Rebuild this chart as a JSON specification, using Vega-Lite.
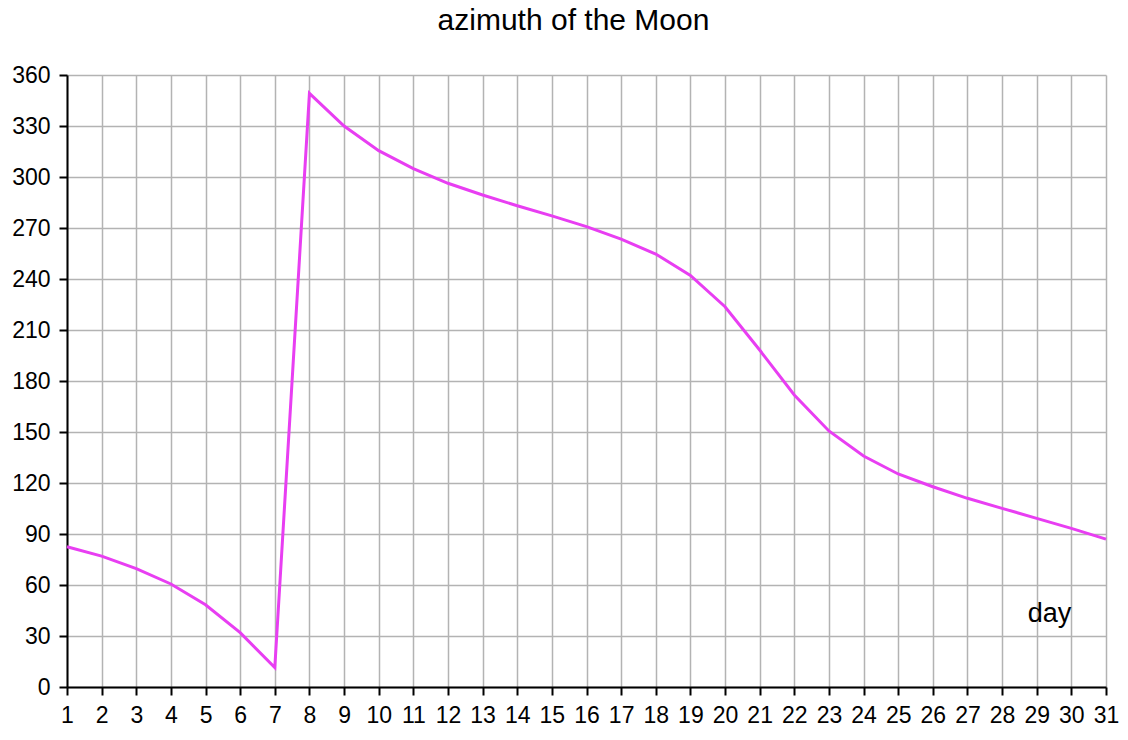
{
  "$schema": "https://vega.github.io/schema/vega-lite/v6.json",
  "width": 1039,
  "height": 612,
  "autosize": {"type": "none"},
  "padding": {"left": 67, "top": 75, "right": 22, "bottom": 53},
  "background": "white",
  "title": {
    "text": "azimuth of the Moon",
    "anchor": "middle",
    "frame": "group",
    "baseline": "alphabetic",
    "offset": 4,
    "dx": -13,
    "font": "Liberation Sans",
    "fontSize": 30,
    "fontWeight": "normal",
    "color": "black"
  },
  "config": {
    "view": {"stroke": null},
    "axis": {
      "labelFont": "Liberation Sans",
      "labelFontSize": 23,
      "labelColor": "black",
      "domainColor": "black",
      "domainWidth": 2,
      "tickColor": "black",
      "tickWidth": 2,
      "tickSize": 8,
      "gridColor": "#b3b3b3",
      "gridWidth": 1.5,
      "gridOpacity": 1
    }
  },
  "data": {
    "values": [
      {"day": 1, "azimuth": 82.5},
      {"day": 2, "azimuth": 77},
      {"day": 3, "azimuth": 69.6},
      {"day": 4, "azimuth": 60.6},
      {"day": 5, "azimuth": 48.4},
      {"day": 6, "azimuth": 32},
      {"day": 7, "azimuth": 11.4},
      {"day": 8, "azimuth": 349.2},
      {"day": 9, "azimuth": 330},
      {"day": 10, "azimuth": 315.5},
      {"day": 11, "azimuth": 304.9},
      {"day": 12, "azimuth": 296.3},
      {"day": 13, "azimuth": 289.4},
      {"day": 14, "azimuth": 283.1},
      {"day": 15, "azimuth": 277.1},
      {"day": 16, "azimuth": 270.8},
      {"day": 17, "azimuth": 263.5},
      {"day": 18, "azimuth": 254.7},
      {"day": 19, "azimuth": 242.1},
      {"day": 20, "azimuth": 223.7},
      {"day": 21, "azimuth": 198.2},
      {"day": 22, "azimuth": 171.8},
      {"day": 23, "azimuth": 150.6},
      {"day": 24, "azimuth": 135.9},
      {"day": 25, "azimuth": 125.3},
      {"day": 26, "azimuth": 117.8},
      {"day": 27, "azimuth": 111},
      {"day": 28, "azimuth": 105.1},
      {"day": 29, "azimuth": 99.2},
      {"day": 30, "azimuth": 93.3},
      {"day": 31, "azimuth": 87}
    ]
  },
  "mark": {"type": "line", "color": "#e83ef2", "strokeWidth": 3},
  "encoding": {
    "x": {
      "field": "day",
      "type": "quantitative",
      "scale": {"domain": [1, 31], "nice": false, "zero": false},
      "axis": {
        "values": [1,2,3,4,5,6,7,8,9,10,11,12,13,14,15,16,17,18,19,20,21,22,23,24,25,26,27,28,29,30,31],
        "labelFlush": false,
        "labelOverlap": false,
        "labelPadding": 9,
        "title": "day",
        "titleFont": "Liberation Sans",
        "titleFontSize": 27,
        "titleFontWeight": "normal",
        "titleColor": "black",
        "titleAnchor": null,
        "titleAlign": "center",
        "titleBaseline": "alphabetic",
        "titleX": 982,
        "titleY": -66
      }
    },
    "y": {
      "field": "azimuth",
      "type": "quantitative",
      "scale": {"domain": [0, 360], "nice": false},
      "axis": {
        "values": [0,30,60,90,120,150,180,210,240,270,300,330,360],
        "labelPadding": 9,
        "title": null
      }
    }
  }
}
